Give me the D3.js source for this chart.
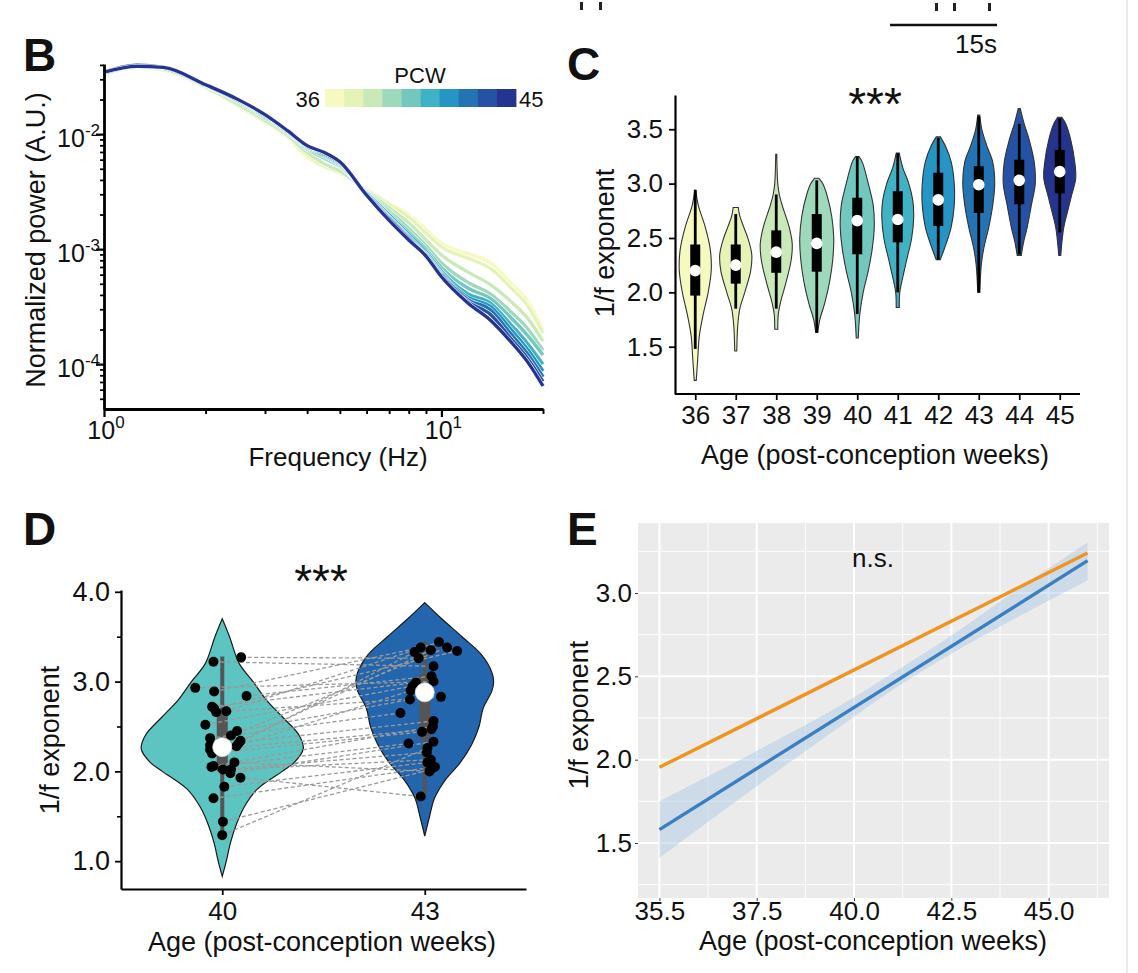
<!DOCTYPE html>
<html lang="en">
<head>
<meta charset="UTF-8">
<title>1/f exponent across post-conception age</title>
<script src="https://d3js.org/d3.v7.min.js"></script>
<style>
  body { margin: 0; background: #fff; }
  svg { display: block; font-family: "Liberation Sans", Arial, Helvetica, sans-serif; }
</style>
</head>
<body>
<svg id="fig" width="1138" height="973"></svg>
<script>
// ---------- data ----------
const pcw = [36, 37, 38, 39, 40, 41, 42, 43, 44, 45];
const pcwColors = ["#f6f9c0", "#e6f3b6", "#c9e9b8", "#9fd9bc", "#72c8be",
                   "#3fb3c5", "#2495c4", "#2474b4", "#2652a5", "#25348f"];

// B: power spectra (log10 of normalized power) per PCW
const psdFreq = [1, 1.25, 1.5, 2, 2.5, 3, 3.5, 4, 4.5, 5, 6, 7, 8, 9, 10, 12, 14, 16, 18, 20];
const psdLog10 = [
  [-1.49,-1.42,-1.44,-1.60,-1.76,-1.90,-2.03,-2.20,-2.29,-2.34,-2.48,-2.60,-2.70,-2.83,-2.95,-3.04,-3.12,-3.29,-3.45,-3.70],
  [-1.48,-1.42,-1.44,-1.59,-1.75,-1.89,-2.02,-2.18,-2.28,-2.33,-2.48,-2.61,-2.72,-2.86,-2.98,-3.08,-3.17,-3.33,-3.49,-3.73],
  [-1.48,-1.41,-1.43,-1.59,-1.74,-1.88,-2.01,-2.16,-2.26,-2.32,-2.49,-2.64,-2.77,-2.92,-3.05,-3.20,-3.31,-3.45,-3.60,-3.80],
  [-1.47,-1.41,-1.43,-1.58,-1.72,-1.86,-1.99,-2.13,-2.21,-2.28,-2.50,-2.67,-2.82,-2.97,-3.12,-3.29,-3.39,-3.54,-3.69,-3.88],
  [-1.47,-1.41,-1.42,-1.58,-1.71,-1.85,-1.98,-2.12,-2.19,-2.27,-2.51,-2.69,-2.85,-3.00,-3.16,-3.34,-3.43,-3.59,-3.75,-3.92],
  [-1.47,-1.41,-1.42,-1.57,-1.71,-1.84,-1.98,-2.11,-2.18,-2.26,-2.51,-2.70,-2.87,-3.02,-3.19,-3.39,-3.47,-3.65,-3.82,-4.00],
  [-1.46,-1.40,-1.42,-1.57,-1.70,-1.84,-1.97,-2.11,-2.17,-2.25,-2.52,-2.72,-2.89,-3.04,-3.21,-3.42,-3.50,-3.69,-3.87,-4.06],
  [-1.46,-1.40,-1.42,-1.57,-1.70,-1.83,-1.97,-2.10,-2.17,-2.25,-2.52,-2.73,-2.90,-3.05,-3.22,-3.44,-3.53,-3.73,-3.91,-4.11],
  [-1.46,-1.40,-1.42,-1.57,-1.70,-1.83,-1.97,-2.10,-2.16,-2.24,-2.53,-2.74,-2.91,-3.06,-3.23,-3.46,-3.57,-3.77,-3.95,-4.15],
  [-1.46,-1.41,-1.42,-1.57,-1.70,-1.83,-1.97,-2.10,-2.16,-2.24,-2.53,-2.75,-2.92,-3.06,-3.24,-3.47,-3.62,-3.80,-3.98,-4.19]
];

// C: violins per PCW (value levels + relative density) and box summaries
const cViolinVals = [
  [2.94, 2.8, 2.6, 2.4, 2.2, 2.0, 1.8, 1.6, 1.4, 1.19],
  [2.78, 2.7, 2.6, 2.5, 2.35, 2.2, 2.0, 1.85, 1.7, 1.46],
  [3.27, 3.0, 2.9, 2.8, 2.6, 2.45, 2.3, 2.1, 1.9, 1.8, 1.66],
  [3.05, 3.0, 2.9, 2.7, 2.5, 2.3, 2.1, 1.9, 1.75, 1.63],
  [3.25, 3.2, 3.0, 2.8, 2.6, 2.4, 2.2, 2.0, 1.8, 1.58],
  [3.28, 3.15, 3.0, 2.85, 2.7, 2.5, 2.3, 2.1, 2.0, 1.86],
  [3.43, 3.35, 3.2, 3.0, 2.8, 2.6, 2.45, 2.35, 2.30],
  [3.63, 3.5, 3.35, 3.2, 3.0, 2.8, 2.6, 2.4, 2.25, 2.0],
  [3.69, 3.55, 3.4, 3.2, 3.0, 2.8, 2.6, 2.45, 2.34],
  [3.61, 3.55, 3.4, 3.2, 3.05, 2.9, 2.75, 2.6, 2.45, 2.34]
];
const cViolinDens = [
  [0.03, 0.18, 0.59, 0.88, 0.94, 0.76, 0.47, 0.24, 0.15, 0.06],
  [0.15, 0.24, 0.47, 0.71, 0.94, 0.88, 0.53, 0.24, 0.12, 0.06],
  [0.03, 0.09, 0.18, 0.35, 0.76, 0.94, 0.88, 0.59, 0.24, 0.12, 0.09],
  [0.12, 0.35, 0.59, 0.88, 1.00, 0.94, 0.76, 0.47, 0.18, 0.06],
  [0.09, 0.29, 0.65, 0.94, 1.00, 0.88, 0.65, 0.35, 0.15, 0.06],
  [0.09, 0.29, 0.65, 0.88, 0.94, 0.82, 0.53, 0.24, 0.12, 0.09],
  [0.12, 0.41, 0.76, 0.94, 0.94, 0.76, 0.47, 0.24, 0.12],
  [0.06, 0.18, 0.47, 0.82, 0.94, 0.82, 0.59, 0.29, 0.15, 0.06],
  [0.06, 0.29, 0.59, 0.88, 0.94, 0.71, 0.47, 0.24, 0.12],
  [0.12, 0.35, 0.65, 0.88, 0.94, 0.71, 0.47, 0.24, 0.12, 0.06]
];
const cMedian  = [2.20, 2.25, 2.37, 2.45, 2.66, 2.67, 2.85, 2.99, 3.03, 3.11];
const cQ1      = [1.97, 2.08, 2.18, 2.19, 2.35, 2.46, 2.61, 2.73, 2.81, 2.91];
const cQ3      = [2.44, 2.44, 2.57, 2.72, 2.87, 2.93, 3.10, 3.16, 3.22, 3.31];
const cWhiskLo = [1.48, 1.85, 1.85, 1.63, 1.80, 2.00, 2.30, 2.00, 2.35, 2.55];
const cWhiskHi = [2.94, 2.72, 2.90, 3.03, 3.25, 3.28, 3.42, 3.62, 3.55, 3.60];

// D: paired subjects at 40 and 43 PCW
const dGroups = [40, 43];
const dColors = ["#5cc5c1", "#2366ae"];
const d40 = [3.27, 3.22, 2.93, 2.89, 2.84, 2.72, 2.70, 2.66, 2.67, 2.52, 2.40, 2.37, 2.34, 2.29, 2.28,
             2.24, 2.20, 2.06, 2.05, 2.02, 2.02, 1.98, 1.93, 1.83, 1.70, 1.44, 1.29, 2.31, 2.10, 2.45];
const d43 = [3.26, 3.17, 3.00, 3.38, 3.06, 2.99, 3.34, 2.83, 3.44, 2.95, 3.38, 2.65, 3.35, 2.56, 2.90,
             2.47, 2.44, 2.50, 2.31, 2.21, 2.13, 2.33, 1.72, 2.10, 2.05, 2.02, 2.26, 3.33, 2.00, 2.80];
// horizontal jitter of each dot, in weeks
const jit40 = [0.28, -0.13, -0.40, -0.12, 0.36, -0.15, -0.12, -0.09, 0.06, -0.25, 0.13, -0.18, 0.27, -0.18, 0.21,
               -0.18, -0.15, -0.13, -0.16, 0.01, 0.13, 0.12, 0.27, 0.03, -0.13, 0.01, 0.00, 0.24, 0.18, 0.22];
const jit43 = [-0.09, 0.13, 0.13, -0.06, 0.10, -0.13, 0.48, 0.24, 0.21, -0.18, 0.33, -0.36, 0.09, 0.13, -0.21,
               0.10, -0.04, 0.12, -0.24, 0.03, 0.09, 0.13, -0.06, 0.04, 0.15, 0.09, 0.04, -0.15, 0.07, -0.22];
const dViolinVals = [
  [3.70, 3.5, 3.2, 3.0, 2.8, 2.6, 2.4, 2.25, 2.1, 2.0, 1.8, 1.6, 1.4, 1.2, 1.0, 0.83],
  [3.88, 3.7, 3.5, 3.3, 3.1, 3.0, 2.9, 2.7, 2.5, 2.3, 2.1, 1.9, 1.7, 1.5, 1.28]
];
const dViolinDens = [
  [0.0, 0.09, 0.21, 0.38, 0.54, 0.75, 0.95, 1.0, 0.89, 0.74, 0.43, 0.27, 0.17, 0.10, 0.05, 0.0],
  [0.0, 0.21, 0.46, 0.70, 0.83, 0.85, 0.83, 0.72, 0.67, 0.58, 0.44, 0.25, 0.12, 0.06, 0.0]
];
const dMedian = [2.27, 2.88];
const dQ1 = [2.00, 2.36];
const dQ3 = [2.65, 3.08];
const dWhiskLo = [1.27, 1.72];
const dWhiskHi = [3.28, 3.45];

// E: linear fits with confidence band
const eFitX = [35, 46];
const eOrangeY = [1.954, 3.24];
const eBlueY = [1.58, 3.194];
const eRibX  = [35, 36.5, 38, 39.5, 41, 42.5, 44, 46];
const eRibLo = [1.41, 1.67, 1.925, 2.175, 2.42, 2.635, 2.83, 3.075];
const eRibHi = [1.75, 1.93, 2.115, 2.305, 2.52, 2.745, 2.99, 3.305];
const eXTicks = [35, 37.5, 40, 42.5, 45];
const eXLabels = ["35.5", "37.5", "40.0", "42.5", "45.0"];
const eYTicks = [1.5, 2.0, 2.5, 3.0];

// ---------- helpers ----------
const svg = d3.select("#fig");
const FONT = '"Liberation Sans", Arial, Helvetica, sans-serif';
const INK = "#111";

function addText(g, x, y, str, size, opts = {}) {
  const t = g.append("text")
    .attr("x", x).attr("y", y)
    .attr("font-size", size)
    .attr("text-anchor", opts.anchor || "middle")
    .attr("font-weight", opts.bold ? "bold" : "normal")
    .attr("fill", opts.fill || INK)
    .text(str);
  if (opts.rotate) t.attr("transform", `rotate(-90,${x},${y})`);
  return t;
}

function styleAxis(sel, size, width) {
  sel.attr("font-family", FONT).attr("font-size", size);
  sel.selectAll("path.domain").attr("stroke", "#000").attr("stroke-width", width);
  sel.selectAll(".tick line").attr("stroke", "#000").attr("stroke-width", width * 0.8);
  sel.selectAll(".tick text").attr("fill", INK);
}

svg.append("rect").attr("width", 1138).attr("height", 973).attr("fill", "#fff");
svg.append("line").attr("x1", 1127).attr("x2", 1127).attr("y1", 0).attr("y2", 973)
  .attr("stroke", "#e3e3e3").attr("stroke-width", 1.5);

// bits of the panel above that are cut off by the crop
const cutOff = svg.append("g").attr("fill", "#222");
[[580, 2], [599, 2], [935, 3], [953, 3], [988, 3]].forEach(([x, y]) =>
  cutOff.append("rect").attr("x", x).attr("y", y).attr("width", 3).attr("height", 8));
cutOff.append("line").attr("x1", 890).attr("x2", 997).attr("y1", 25).attr("y2", 25)
  .attr("stroke", "#111").attr("stroke-width", 2.5);
addText(svg, 997, 53, "15s", 26, { anchor: "end" });

// ---------- panel B ----------
const gB = svg.append("g");
const bX = d3.scaleLog().domain([1, 20]).range([104, 543]);
const bY = d3.scaleLog().domain([Math.pow(10, -4.39), Math.pow(10, -1.39)]).range([409, 64]);

const bLine = d3.line()
  .x((d, i) => bX(psdFreq[i]))
  .y(d => bY(Math.pow(10, d)))
  .curve(d3.curveMonotoneX);

psdLog10.forEach((s, k) => {
  gB.append("path").attr("d", bLine(s)).attr("fill", "none")
    .attr("stroke", "#fff").attr("stroke-width", 4.3).attr("stroke-linejoin", "round");
  gB.append("path").attr("d", bLine(s)).attr("fill", "none")
    .attr("stroke", pcwColors[k]).attr("stroke-width", 3.3).attr("stroke-linejoin", "round");
});

const bMinorX = [2, 3, 4, 5, 6, 7, 8, 9, 20];
const bMinorY = [];
for (let e = -5; e <= -2; e++) for (let k = 2; k <= 9; k++) {
  const v = k * Math.pow(10, e);
  if (v > bY.domain()[0] && v < bY.domain()[1]) bMinorY.push(v);
}

const bxa = gB.append("g").attr("transform", "translate(0,409)")
  .call(d3.axisBottom(bX).tickValues([1, 10]).tickSize(8).tickSizeOuter(0).tickFormat(""));
styleAxis(bxa, 25, 2.8);
const bxm = gB.append("g").attr("transform", "translate(0,409)")
  .call(d3.axisBottom(bX).tickValues(bMinorX).tickSize(5).tickFormat(""));
bxm.select(".domain").remove();
styleAxis(bxm, 25, 2.4);

const bya = gB.append("g").attr("transform", "translate(104,0)")
  .call(d3.axisLeft(bY).tickValues([1e-2, 1e-3, 1e-4]).tickSize(8).tickSizeOuter(0).tickFormat(""));
styleAxis(bya, 25, 2.8);
const bym = gB.append("g").attr("transform", "translate(104,0)")
  .call(d3.axisLeft(bY).tickValues(bMinorY).tickSize(4).tickFormat(""));
bym.select(".domain").remove();
styleAxis(bym, 25, 2.2);

function powLabel(g, x, y, exp, anchor) {
  const t = g.append("text").attr("x", x).attr("y", y)
    .attr("font-size", 25).attr("text-anchor", anchor).attr("fill", INK);
  t.append("tspan").text("10");
  t.append("tspan").attr("dy", -11).attr("font-size", 17).text(exp);
}
[[1, "0"], [10, "1"]].forEach(([v, e]) => powLabel(gB, bX(v) + 2, 439, e, "middle"));
[[1e-2, "-2"], [1e-3, "-3"], [1e-4, "-4"]].forEach(([v, e]) => powLabel(gB, 100, bY(v) + 13, e, "end"));

// colour bar
const cbX = d3.scaleBand().domain(pcw).range([325, 516]);
gB.selectAll("rect.cb").data(pcw).join("rect").attr("class", "cb")
  .attr("x", d => cbX(d)).attr("y", 89)
  .attr("width", cbX.bandwidth() + 0.4).attr("height", 18)
  .attr("fill", (d, i) => pcwColors[i]);
addText(gB, 420, 83, "PCW", 22);
addText(gB, 320, 107, String(pcw[0]), 22, { anchor: "end" });
addText(gB, 519, 107, String(pcw[pcw.length - 1]), 22, { anchor: "start" });

addText(gB, 23, 71, "B", 46, { anchor: "start", bold: true });
addText(gB, 45, 240, "Normalized power (A.U.)", 27, { rotate: true });
addText(gB, 338, 466, "Frequency (Hz)", 26);

// ---------- panel C ----------
const gC = svg.append("g");
const cX = d3.scalePoint().domain(pcw).range([675, 1080]).padding(0.5);
const cY = d3.scaleLinear().domain([1.065, 3.815]).range([394, 95]);
const cW = d3.scaleLinear().domain([0, 1]).range([0, 17]);

pcw.forEach((p, i) => {
  const cx = cX(p);
  const pts = cViolinVals[i].map((v, j) => [v, cViolinDens[i][j]]);
  const area = d3.area()
    .y(d => cY(d[0]))
    .x0(d => cx - cW(d[1]))
    .x1(d => cx + cW(d[1]))
    .curve(d3.curveCatmullRom);
  gC.append("path").attr("d", area(pts))
    .attr("fill", pcwColors[i]).attr("stroke", "#333").attr("stroke-width", 1.1);
  gC.append("line").attr("x1", cx).attr("x2", cx)
    .attr("y1", cY(cWhiskLo[i])).attr("y2", cY(cWhiskHi[i]))
    .attr("stroke", "#000").attr("stroke-width", 2.8);
  gC.append("rect").attr("x", cx - 5).attr("width", 10)
    .attr("y", cY(cQ3[i])).attr("height", cY(cQ1[i]) - cY(cQ3[i]))
    .attr("fill", "#000");
  gC.append("circle").attr("cx", cx).attr("cy", cY(cMedian[i])).attr("r", 5.8).attr("fill", "#fff");
});

const cxa = gC.append("g").attr("transform", "translate(0,394)")
  .call(d3.axisBottom(cX).tickSize(6).tickPadding(6).tickSizeOuter(0));
styleAxis(cxa, 26, 2.2);
cxa.select(".domain").attr("d", "M675,0H1080");
const cya = gC.append("g").attr("transform", "translate(675,0)")
  .call(d3.axisLeft(cY).tickValues([1.5, 2.0, 2.5, 3.0, 3.5]).tickFormat(d3.format(".1f"))
    .tickSize(6).tickPadding(6).tickSizeOuter(0));
styleAxis(cya, 26, 2.2);

addText(gC, 567, 80, "C", 46, { anchor: "start", bold: true });
addText(gC, 875, 120, "***", 46);
addText(gC, 614, 243, "1/f exponent", 27, { rotate: true });
addText(gC, 875, 464, "Age (post-conception weeks)", 27);

// ---------- panel D ----------
const gD = svg.append("g");
const dX = d3.scaleLinear().domain([38.5, 44.5]).range([121, 526]);
const dY = d3.scaleLinear().domain([0.69, 4.02]).range([889, 590]);
const dW = d3.scaleLinear().domain([0, 1]).range([0, 81]);

dGroups.forEach((grp, i) => {
  const cx = dX(grp);
  const pts = dViolinVals[i].map((v, j) => [v, dViolinDens[i][j]]);
  const area = d3.area()
    .y(d => dY(d[0]))
    .x0(d => cx - dW(d[1]))
    .x1(d => cx + dW(d[1]))
    .curve(d3.curveCatmullRom);
  gD.append("path").attr("d", area(pts))
    .attr("fill", dColors[i]).attr("stroke", "#1a1a1a").attr("stroke-width", 1.2);
  gD.append("line").attr("x1", cx).attr("x2", cx)
    .attr("y1", dY(dWhiskLo[i])).attr("y2", dY(dWhiskHi[i]))
    .attr("stroke", "#555").attr("stroke-width", 4);
  gD.append("rect").attr("x", cx - 5.5).attr("width", 11)
    .attr("y", dY(dQ3[i])).attr("height", dY(dQ1[i]) - dY(dQ3[i]))
    .attr("fill", "#555");
});

const pairs = d40.map((v, i) => ({ a: v, b: d43[i], ja: jit40[i], jb: jit43[i] }));
gD.selectAll("line.pair").data(pairs).join("line").attr("class", "pair")
  .attr("x1", d => dX(dGroups[0] + d.ja)).attr("y1", d => dY(d.a))
  .attr("x2", d => dX(dGroups[1] + d.jb)).attr("y2", d => dY(d.b))
  .attr("stroke", "#9a9a9a").attr("stroke-width", 1.3).attr("stroke-dasharray", "4,2.5");
gD.selectAll("circle.p40").data(pairs).join("circle").attr("class", "p40")
  .attr("cx", d => dX(dGroups[0] + d.ja)).attr("cy", d => dY(d.a)).attr("r", 5).attr("fill", "#000");
gD.selectAll("circle.p43").data(pairs).join("circle").attr("class", "p43")
  .attr("cx", d => dX(dGroups[1] + d.jb)).attr("cy", d => dY(d.b)).attr("r", 5).attr("fill", "#000");
dGroups.forEach((grp, i) => {
  gD.append("circle").attr("cx", dX(grp)).attr("cy", dY(dMedian[i])).attr("r", 9.5)
    .attr("fill", "#fff").attr("stroke", "#ddd").attr("stroke-width", 0.8);
});

const dxa = gD.append("g").attr("transform", "translate(0,889)")
  .call(d3.axisBottom(dX).tickValues(dGroups).tickFormat(d3.format("d"))
    .tickSize(6).tickPadding(7).tickSizeOuter(0));
styleAxis(dxa, 26, 2.2);
const dya = gD.append("g").attr("transform", "translate(121,0)")
  .call(d3.axisLeft(dY).tickValues([1, 2, 3, 4]).tickFormat(d3.format(".1f"))
    .tickSize(6).tickPadding(5).tickSizeOuter(0));
styleAxis(dya, 27, 2.2);
const dym = gD.append("g").attr("transform", "translate(121,0)")
  .call(d3.axisLeft(dY).tickValues([1.5, 2.5, 3.5]).tickSize(4).tickFormat(""));
dym.select(".domain").remove();
styleAxis(dym, 26, 2);

addText(gD, 23, 545, "D", 46, { anchor: "start", bold: true });
addText(gD, 321, 597, "***", 46);
addText(gD, 59, 740, "1/f exponent", 27, { rotate: true });
addText(gD, 322, 951, "Age (post-conception weeks)", 27);

// ---------- panel E ----------
const gE = svg.append("g");
const eX = d3.scaleLinear().domain([34.45, 46.55]).range([638, 1109]);
const eY = d3.scaleLinear().domain([1.17, 3.42]).range([898, 523]);

gE.append("rect").attr("x", 638).attr("y", 523).attr("width", 471).attr("height", 375).attr("fill", "#ebebeb");
const eMinorX = eXTicks.map(t => t + 1.25);
const eMinorY = [1.25, 1.75, 2.25, 2.75, 3.25];
gE.selectAll("line.gmx").data(eMinorX).join("line").attr("class", "gmx")
  .attr("x1", d => eX(d)).attr("x2", d => eX(d)).attr("y1", 523).attr("y2", 898)
  .attr("stroke", "#fff").attr("stroke-width", 0.9);
gE.selectAll("line.gmy").data(eMinorY).join("line").attr("class", "gmy")
  .attr("y1", d => eY(d)).attr("y2", d => eY(d)).attr("x1", 638).attr("x2", 1109)
  .attr("stroke", "#fff").attr("stroke-width", 0.9);
gE.selectAll("line.gx").data(eXTicks).join("line").attr("class", "gx")
  .attr("x1", d => eX(d)).attr("x2", d => eX(d)).attr("y1", 523).attr("y2", 898)
  .attr("stroke", "#fff").attr("stroke-width", 2);
gE.selectAll("line.gy").data(eYTicks).join("line").attr("class", "gy")
  .attr("y1", d => eY(d)).attr("y2", d => eY(d)).attr("x1", 638).attr("x2", 1109)
  .attr("stroke", "#fff").attr("stroke-width", 2);

const ribbon = d3.area()
  .x((d, i) => eX(eRibX[i]))
  .y0((d, i) => eY(eRibLo[i]))
  .y1((d, i) => eY(eRibHi[i]))
  .curve(d3.curveMonotoneX);
gE.append("path").attr("d", ribbon(eRibX)).attr("fill", "#a9c8e6").attr("fill-opacity", 0.45);

const fit = d3.line().x((d, i) => eX(eFitX[i])).y(d => eY(d));
gE.append("path").attr("d", fit(eOrangeY)).attr("fill", "none")
  .attr("stroke", "#f0941e").attr("stroke-width", 3.4);
gE.append("path").attr("d", fit(eBlueY)).attr("fill", "none")
  .attr("stroke", "#3b7fc0").attr("stroke-width", 3.4);

const exa = gE.append("g").attr("transform", "translate(0,898)")
  .call(d3.axisBottom(eX).tickValues(eXTicks).tickSize(3).tickPadding(1)
    .tickFormat((d, i) => eXLabels[i]));
exa.select(".domain").remove();
styleAxis(exa, 26, 1.2);
exa.selectAll(".tick line").attr("stroke", "#333");
const eya = gE.append("g").attr("transform", "translate(638,0)")
  .call(d3.axisLeft(eY).tickValues(eYTicks).tickSize(3).tickPadding(3).tickFormat(d3.format(".1f")));
eya.select(".domain").remove();
styleAxis(eya, 26, 1.2);
eya.selectAll(".tick line").attr("stroke", "#333");

addText(gE, 567, 545, "E", 46, { anchor: "start", bold: true });
addText(gE, 873, 567, "n.s.", 26);
addText(gE, 588, 715, "1/f exponent", 27, { rotate: true });
addText(gE, 873, 950, "Age (post-conception weeks)", 27);
</script>
</body>
</html>
